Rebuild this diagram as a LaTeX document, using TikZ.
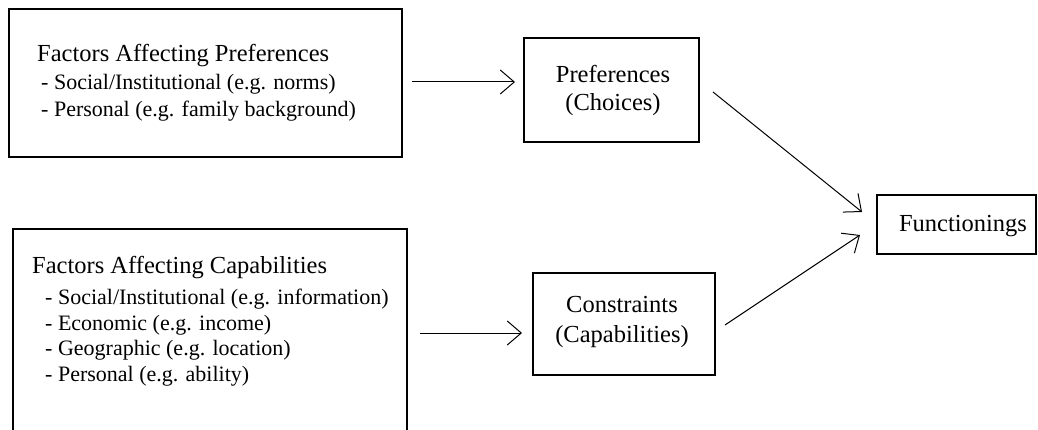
\documentclass[tikz,border=0pt]{standalone}
\usepackage{fontspec}
\setmainfont{Liberation Serif}
\usetikzlibrary{arrows.meta}
\begin{document}
\begin{tikzpicture}[x=1pt,y=-1pt,
  box/.style={draw, line width=1.2pt, inner sep=0pt},
  ttl/.style={anchor=base west, inner sep=0pt, font=\fontsize{24.5}{29}\selectfont},
  itm/.style={anchor=base west, inner sep=0pt, font=\fontsize{22}{26}\selectfont},
  ctr/.style={anchor=base, inner sep=0pt, font=\fontsize{24.5}{29}\selectfont},
  arr/.style={line width=1pt, -{Straight Barb[length=14pt,width=24pt,line width=1pt]}}]
\useasboundingbox (0,0) rectangle (1038,430);
% Factors affecting preferences
\node[box, minimum width=393pt, minimum height=148pt] (fp) at (205.5,83) {};
\node[ttl] (fp1) at (37,62) {Factors Affecting Preferences};
\node[itm] (fp2) at (41,90) {- Social/Institutional (e.g. norms)};
\node[itm] (fp3) at (41,117) {- Personal (e.g. family background)};
% Factors affecting capabilities
\node[box, minimum width=394pt, minimum height=216pt] (fc) at (210,337) {};
\node[ttl] (fc1) at (32,273) {Factors Affecting Capabilities};
\node[itm] (fc2) at (45,304) {- Social/Institutional (e.g. information)};
\node[itm] (fc3) at (45,330) {- Economic (e.g. income)};
\node[itm] (fc4) at (45,355) {- Geographic (e.g. location)};
\node[itm] (fc5) at (45,381) {- Personal (e.g. ability)};
% Preferences
\node[box, minimum width=175pt, minimum height=104pt] (pr) at (611.5,90) {};
\node[ctr] (pr1) at (613,83) {Preferences};
\node[ctr] (pr2) at (613,111) {(Choices)};
% Constraints
\node[box, minimum width=182pt, minimum height=102pt] (cs) at (624,324) {};
\node[ctr] (cs1) at (622,312) {Constraints};
\node[ctr] (cs2) at (622,342) {(Capabilities)};
% Functionings
\node[box, minimum width=159pt, minimum height=59pt] (fn) at (956.5,224.5) {};
\node[ctr] (fn1) at (963,232) {Functionings};
% arrows
\coordinate (a1s) at (412,82);
\coordinate (a1e) at (515,82);
\coordinate (a2s) at (420,333);
\coordinate (a2e) at (522,333);
\coordinate (a3s) at (713,92);
\coordinate (a3e) at (862,212);
\coordinate (a4s) at (725,325);
\coordinate (a4e) at (860,235);
\draw[arr] (a1s) -- (a1e);
\draw[arr] (a2s) -- (a2e);
\draw[arr] (a3s) -- (a3e);
\draw[arr] (a4s) -- (a4e);
\end{tikzpicture}
\end{document}
